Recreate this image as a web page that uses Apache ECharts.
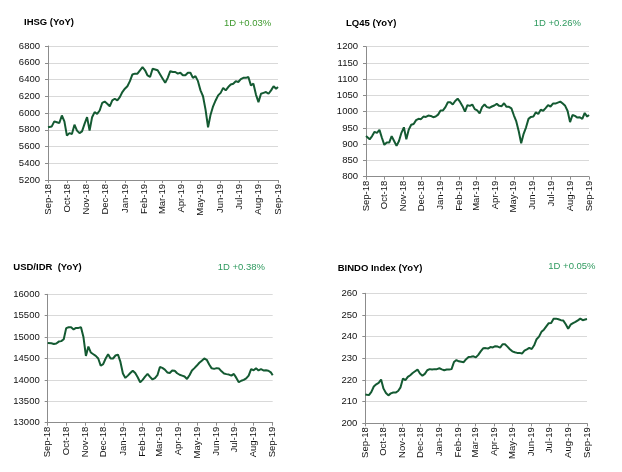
<!DOCTYPE html>
<html>
<head>
<meta charset="utf-8">
<script src="https://cdn.jsdelivr.net/npm/echarts@6/dist/echarts.min.js"></script>
<style>
html,body{margin:0;padding:0;background:#fff;}
#c{width:622px;height:472px;}
</style>
</head>
<body>
<div id="c"></div>
<script>
const dates = [
'2018-09-01','2018-09-07','2018-09-11','2018-09-15','2018-09-19','2018-09-23','2018-09-27',
'2018-10-01','2018-10-05','2018-10-09','2018-10-13','2018-10-17','2018-10-21','2018-10-25','2018-10-29',
'2018-11-02','2018-11-06','2018-11-10','2018-11-14','2018-11-18','2018-11-22','2018-11-26','2018-11-30',
'2018-12-04','2018-12-08','2018-12-12','2018-12-16','2018-12-20','2018-12-24','2018-12-28',
'2019-01-01','2019-01-05','2019-01-09','2019-01-13','2019-01-17','2019-01-21','2019-01-25','2019-01-29',
'2019-02-02','2019-02-06','2019-02-10','2019-02-14','2019-02-18','2019-02-22','2019-02-26',
'2019-03-02','2019-03-06','2019-03-10','2019-03-14','2019-03-18','2019-03-22','2019-03-26','2019-03-30',
'2019-04-03','2019-04-07','2019-04-11','2019-04-15','2019-04-19','2019-04-23','2019-04-27',
'2019-05-01','2019-05-05','2019-05-09','2019-05-13','2019-05-17','2019-05-21','2019-05-25','2019-05-29',
'2019-06-02','2019-06-06','2019-06-10','2019-06-14','2019-06-18','2019-06-22','2019-06-26','2019-06-30',
'2019-07-04','2019-07-08','2019-07-12','2019-07-16','2019-07-20','2019-07-24','2019-07-28',
'2019-08-01','2019-08-05','2019-08-09','2019-08-13','2019-08-17','2019-08-21','2019-08-25','2019-08-29',
'2019-09-01'
];

const ihsg = [
5830,5840,5900,5890,5880,5970,5900,
5730,5760,5750,5860,5790,5760,5780,5870,
5950,5790,5950,6010,5990,6030,6120,6136,
6110,6080,6150,6170,6150,6190,6250,
6290,6320,6380,6460,6470,6470,6510,6548,
6510,6448,6430,6528,6520,6510,6460,
6410,
6360,6420,6500,6490,6490,6470,6480,
6450,6450,6480,6480,6420,6440,6380,6270,
6200,6040,5830,5980,6080,6150,6210,
6240,6300,6270,6310,6340,6350,6380,6370,
6405,6420,6420,6430,6330,6350,6220,
6130,6230,6240,6250,6230,6270,6320,6290,
6310
];

const lq45 = [
925,915,925,938,935,944,920,
898,905,905,925,910,895,910,935,
952,915,945,960,962,974,978,977,
985,984,988,987,983,985,991,
1004,1004,1014,1029,1029,1022,1033,1040,
1030,1017,1000,1020,1018,1022,1008,
1004,
995,1014,1022,1014,1012,1016,1019,
1024,1018,1017,1026,1015,1015,1010,989,
970,940,903,932,952,978,984,
985,998,993,1006,1003,1011,1020,1016,
1025,1025,1028,1031,1025,1018,1002,
968,990,987,982,983,978,996,985,
990
];

const usdidr = [
14860,14855,14840,14850,14895,14906,14950,
15210,15230,15230,15180,15215,15215,15230,15000,
14560,14780,14640,14600,14560,14500,14330,14370,
14500,14600,14500,14500,14570,14590,14420,
14150,14047,14100,14160,14215,14160,14063,13945,
14000,14075,14140,14070,14010,14040,14110,
14300,
14280,14240,14175,14160,14220,14215,14155,
14120,14100,14080,14023,14110,14220,14275,14335,
14400,14450,14500,14470,14360,14270,14258,
14275,14265,14200,14150,14135,14125,14100,14140,
14047,13945,13980,14000,14035,14102,14250,
14225,14270,14220,14250,14220,14225,14215,14175,
14110
];

const bindo = [
213.3,213.0,214.5,217.0,218.0,218.7,220.2,
216.0,214.0,212.9,213.8,214.2,214.2,214.9,216.6,
220.7,219.9,221.4,222.2,223.2,224.0,224.8,223.0,
222.0,222.8,224.5,225.0,224.8,225.0,225.0,
225.4,224.9,224.5,224.8,224.8,225.0,228.3,229.2,
228.6,228.4,228.2,229.6,230.6,230.7,230.9,
230.4,
231.6,233.2,234.6,234.7,234.5,235.2,235.0,
235.6,235.4,234.9,236.5,236.5,235.4,234.2,233.2,
232.8,232.5,232.5,232.2,233.5,234.1,234.8,
234.3,236.0,238.8,240.0,242.2,243.2,244.7,246.2,
246.3,248.2,248.3,248.0,247.6,247.4,245.7,
243.6,245.5,246.2,246.8,247.5,248.3,247.6,247.9,
248.1
];

const tickDates = ['2018-09-01','2018-10-01','2018-11-01','2018-12-01','2019-01-01','2019-02-01','2019-03-01',
  '2019-04-01','2019-05-01','2019-06-01','2019-07-01','2019-08-01','2019-09-01'];
const tickLabels = ['Sep-18','Oct-18','Nov-18','Dec-18','Jan-19','Feb-19','Mar-19','Apr-19','May-19','Jun-19','Jul-19','Aug-19','Sep-19'];

const titles = ['IHSG (YoY)','LQ45 (YoY)','USD/IDR  (YoY)','BINDO Index (YoY)'];
const changes = ['1D +0.03%','1D +0.26%','1D +0.38%','1D +0.05%'];

const FONT = '"Liberation Sans", Arial, sans-serif';
function ts(s){ const p = s.split('-').map(Number); return Date.UTC(p[0], p[1]-1, p[2]); }
const tickTs = tickDates.map(ts);
const dateTs = dates.map(ts);

const grids = [
  {left:48, top:46, width:230, height:134},
  {left:366, top:46.7, width:223, height:130},
  {left:47.7, top:294.3, width:225, height:128.4},
  {left:365.3, top:293.3, width:221.7, height:130}
];
const yCfg = [
  {min:5200, max:6800, interval:200},
  {min:800, max:1200, interval:50},
  {min:13000, max:16000, interval:500},
  {min:200, max:260, interval:10}
];
const seriesData = [ihsg, lq45, usdidr, bindo];

const titlePos = [
  {x:24, y:23.3}, {x:346, y:24.3}, {x:13.3, y:268.3}, {x:337.7, y:269.7}
];
const changePos = [
  {x:224, y:24}, {x:533.7, y:24}, {x:217.7, y:268.3}, {x:548.3, y:267}
];
const changeColors = ['#3f9a2f','#2f9a5f','#2f9a5f','#2f9a5f'];

const axisGray = '#8c8c8c';

function fmt(v){
  let best=0, bd=Infinity;
  tickTs.forEach((t,k)=>{const d=Math.abs(t-v); if(d<bd){bd=d;best=k;}});
  return tickLabels[best];
}

const option = {
  animation:false,
  backgroundColor:'#fff',
  textStyle:{fontFamily:FONT},
  grid: grids,
  graphic: [].concat(
    titles.map((t,i)=>({type:'text', left:titlePos[i].x, top:titlePos[i].y-6,
      style:{text:t, font:'bold 9.5px '+FONT, fill:'#000'}})),
    changes.map((t,i)=>({type:'text', left:changePos[i].x, top:changePos[i].y-6,
      style:{text:t, font:'9.5px '+FONT, fill:changeColors[i]}}))
  ),
  xAxis: grids.map((g,i)=>({
    type:'value', gridIndex:i,
    min: tickTs[0], max: tickTs[tickTs.length-1],
    axisLine:{show:true, onZero:false, lineStyle:{color:axisGray, width:1}},
    axisTick:{show:true, length:3, customValues: tickTs, lineStyle:{color:axisGray}},
    splitLine:{show:false},
    axisLabel:{
      customValues: tickTs,
      rotate:90, margin:4, fontSize:9.5, color:'#111', fontFamily:FONT,
      formatter: fmt
    }
  })),
  yAxis: grids.map((g,i)=>({
    type:'value', gridIndex:i,
    min:yCfg[i].min, max:yCfg[i].max, interval:yCfg[i].interval,
    axisLine:{show:true, lineStyle:{color:axisGray, width:1}},
    axisTick:{show:true, length:3, lineStyle:{color:axisGray}},
    splitLine:{show:true, lineStyle:{color:'#d9d9d9', width:1}},
    axisLabel:{fontSize:9.5, color:'#111', margin:8, fontFamily:FONT,
      formatter:function(v){ return String(v); }}
  })),
  series: seriesData.map((arr,i)=>({
    type:'line', xAxisIndex:i, yAxisIndex:i,
    data: dateTs.map((d,k)=>[d, arr[k]]),
    showSymbol:false, symbol:'none',
    lineStyle:{color:'#145a32', width:2},
    itemStyle:{color:'#145a32'}
  }))
};

const chart = echarts.init(document.getElementById('c'), null, {renderer:'canvas'});
chart.setOption(option);
</script>
</body>
</html>
